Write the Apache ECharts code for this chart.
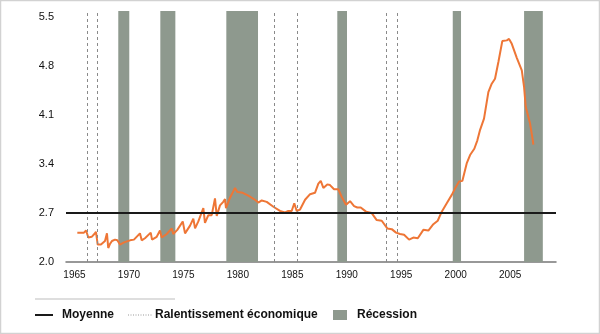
<!DOCTYPE html>
<html>
<head>
<meta charset="utf-8">
<script src="https://cdn.jsdelivr.net/npm/echarts@6/dist/echarts.min.js"></script>
<style>
html,body{margin:0;padding:0;background:#fff;}
#c{width:600px;height:334px;}
</style>
</head>
<body>
<div id="c"></div>
<script>
// ---- data ----
var years = [1965.26,1965.41,1965.57,1965.87,1966.06,1966.18,1966.27,1966.58,1966.82,1966.97,
  1967.13,1967.43,1967.80,1967.98,1968.10,1968.26,1968.44,1968.56,1968.72,1968.93,
  1969.18,1969.55,1970.10,1970.46,1971.01,1971.17,1971.47,1972.00,1972.12,1972.55,
  1972.85,1973.01,1973.47,1973.93,1974.07,1974.44,1974.94,1975.15,1975.61,1975.91,
  1976.07,1976.37,1976.83,1976.98,1977.29,1977.60,1977.90,1978.06,1978.36,1978.66,
  1978.82,1978.91,1979.28,1979.74,1979.95,1980.45,1980.96,1981.57,1981.88,1982.19,
  1982.65,1983.26,1983.87,1984.33,1984.63,1984.94,1985.18,1985.40,1985.71,1986.17,
  1986.63,1987.08,1987.39,1987.61,1987.85,1988.21,1988.46,1988.83,1989.22,1989.54,
  1989.93,1990.30,1990.67,1990.97,1991.28,1991.77,1992.29,1992.75,1993.21,1993.72,
  1994.13,1994.52,1994.89,1995.26,1995.72,1996.11,1996.52,1997.03,1997.49,1997.95,
  1998.35,1998.72,1999.18,1999.64,1999.94,2000.31,2000.61,2001.01,2001.32,2001.71,
  2001.99,2002.24,2002.60,2003.00,2003.31,2003.61,2003.92,2004.28,2004.69,2004.90,
  2005.15,2005.61,2006.07,2006.28,2006.43,2006.83,2007.08,2007.13];
var values = [2.42,2.44,2.42,2.42,2.45,2.43,2.35,2.36,2.40,2.43,
  2.25,2.25,2.30,2.41,2.20,2.26,2.30,2.29,2.32,2.31,
  2.25,2.28,2.31,2.32,2.41,2.31,2.34,2.42,2.32,2.36,
  2.45,2.35,2.40,2.48,2.40,2.46,2.58,2.41,2.52,2.62,
  2.48,2.58,2.77,2.56,2.67,2.67,2.91,2.66,2.81,2.86,
  2.90,2.77,2.92,3.06,3.00,2.99,2.95,2.89,2.85,2.88,
  2.86,2.79,2.73,2.71,2.73,2.73,2.84,2.73,2.75,2.89,
  2.97,2.99,3.12,3.16,3.06,3.11,3.10,3.04,3.04,2.93,
  2.82,2.87,2.80,2.78,2.78,2.72,2.70,2.60,2.59,2.48,
  2.47,2.42,2.40,2.39,2.32,2.35,2.34,2.46,2.45,2.54,
  2.59,2.72,2.84,2.96,3.05,3.15,3.16,3.41,3.53,3.62,
  3.74,3.89,4.05,4.43,4.55,4.62,4.86,5.16,5.17,5.19,
  5.12,4.92,4.74,4.50,4.22,3.98,3.74,3.68];
var meanValue = 2.7;
var slowdownYears = [1966.18,1967.09,1983.35,1985.43,1993.67,1994.64];
var recessionStart = [1969.02,1972.88,1978.94,1989.13,1999.73,2006.28];
var recessionEnd   = [1970.03,1974.26,1981.85,1990.02,2000.49,2008.00];
var xTickLabels = [1965,1970,1975,1980,1985,1990,1995,2000,2005];
var yTickLabels = [2.0,2.7,3.4,4.1,4.8,5.5];
var legendNames = ['Moyenne','Ralentissement économique','Récession'];

// ---- build ----
var seriesData = years.map(function(y,i){return [y, values[i]];});
var recAreas = recessionStart.map(function(s,i){return [{xAxis:s},{xAxis:recessionEnd[i]}];});
var slowLines = slowdownYears.map(function(y){return {xAxis:y};});

var recColor = '#8e998e';
var chart = echarts.init(document.getElementById('c'), null, {renderer:'canvas'});
var font = '"Liberation Sans", Arial, sans-serif';
chart.setOption({
  animation:false,
  backgroundColor:'#fff',
  grid:{left:66,right:44,top:11,bottom:72},
  xAxis:{
    type:'value', min:1964.22, max:2009.21,
    splitLine:{show:false},
    axisTick:{show:false},
    axisLine:{show:true,lineStyle:{color:'#777',width:1.5}},
    axisLabel:{customValues:xTickLabels,color:'#111',fontSize:10,fontFamily:font,margin:8,
      formatter:function(v){return String(Math.round(v));}}
  },
  yAxis:{
    type:'value', min:2.0, max:5.59,
    splitLine:{show:false},
    axisTick:{show:false},
    axisLine:{show:false},
    axisLabel:{customValues:yTickLabels,color:'#111',fontSize:11,fontFamily:font,margin:12,
      formatter:function(v){return v.toFixed(1);}}
  },
  series:[
    {name:legendNames[2],type:'line',data:[],z:1,silent:true,
     markArea:{silent:true,itemStyle:{color:recColor},data:recAreas}},
    {name:legendNames[1],type:'line',data:[],z:2,silent:true,
     markLine:{silent:true,symbol:'none',label:{show:false},
       lineStyle:{color:'#8a8a8a',width:1,type:[3,3]},data:slowLines}},
    {name:legendNames[0],type:'line',data:[],z:3,silent:true,
     markLine:{silent:true,symbol:'none',label:{show:false},
       lineStyle:{color:'#1a1a1a',width:2,type:'solid'},data:[{yAxis:meanValue}]}},
    {name:'data',type:'line',data:seriesData,z:4,showSymbol:false,symbol:'none',
     lineStyle:{color:'#ee7636',width:2},itemStyle:{color:'#ee7636'}}
  ],
  graphic:[
    {type:'rect',shape:{x:0.5,y:0.5,width:599,height:333},style:{fill:null,stroke:'#d2d2d2',lineWidth:1.5},z:100},
    {type:'line',shape:{x1:35,y1:299,x2:175,y2:299},style:{stroke:'#bdbdbd',lineWidth:1}},
    {type:'line',shape:{x1:35,y1:315,x2:53,y2:315},style:{stroke:'#1a1a1a',lineWidth:2}},
    {type:'text',x:62,y:315,style:{text:legendNames[0],font:'bold 12px '+font,fill:'#111',verticalAlign:'middle'}},
    {type:'line',shape:{x1:128,y1:315,x2:152,y2:315},style:{stroke:'#999',lineWidth:1,lineDash:[1,1.5]}},
    {type:'text',x:155,y:315,style:{text:legendNames[1],font:'bold 12px '+font,fill:'#111',verticalAlign:'middle'}},
    {type:'rect',shape:{x:333,y:310,width:14,height:10},style:{fill:recColor}},
    {type:'text',x:357,y:315,style:{text:legendNames[2],font:'bold 12px '+font,fill:'#111',verticalAlign:'middle'}}
  ]
});
</script>
</body>
</html>
